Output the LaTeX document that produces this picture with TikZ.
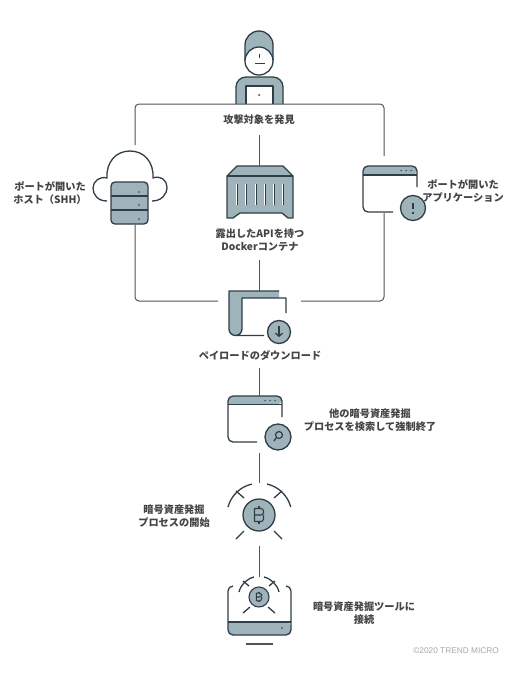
\documentclass[tikz,border=0pt]{standalone}
\usepackage{fontspec}
\setmainfont{Liberation Sans}
\newfontfamily\jpfont{Noto Sans CJK JP}[BoldFont={* Black}]
\definecolor{ink}{HTML}{2F3E46}
\definecolor{steel}{HTML}{9FB3BA}
\definecolor{wire}{HTML}{505558}
\definecolor{caption}{HTML}{444444}
\usetikzlibrary{arrows.meta,positioning,calc}
\tikzset{coinmark/.pic={
  \draw[ink, line width=1.1pt] (-4.5,6.5) -- (-4.5,-6.5) [rounded corners=2.5pt] -- (4.5,-6.5) -- (4.5,0) [sharp corners] -- (-4.5,0) (4.5,0) [rounded corners=2.5pt] -- (4.5,6.5) [sharp corners] -- (-4.5,6.5);
  \draw[ink, line width=1.1pt] (0,-9) -- (0,-6.5) (0,6.5) -- (0,9);
}}

\begin{document}
\begin{tikzpicture}[x=1pt, y=-1pt, line join=round,
  wired/.style={wire, line width=1pt},
  icon/.style={ink, line width=1.3pt},
  badge/.style={circle, draw=ink, fill=steel, line width=1.3pt, inner sep=0pt},
  dotmark/.style={circle, fill=ink, inner sep=0pt, minimum size=2pt},
  lbl/.style={font=\jpfont\bfseries\fontsize{10.2}{13}\selectfont, text=caption, align=center, inner sep=0pt}]
\useasboundingbox (0,0) rectangle (520,677);
\fill[white] (0,0) rectangle (520,677);
% attacker
\draw[icon, fill=steel, rounded corners=10pt] (236,104) -- (236,77) -- (283,77) -- (283,104);
\draw[icon, fill=white] (246,104) -- (246,86) -- (273,86) -- (273,104);
\node[dotmark] (laptopdot) at (259,95) {};
\draw[icon, fill=steel] (245,61) -- (245,45) arc[start angle=180, end angle=0, x radius=14, y radius=-14] -- (273,61);
\node[circle, draw=ink, fill=white, line width=1.3pt, minimum size=28pt, inner sep=0pt] (head) at (259,61) {};
\draw[icon, line width=1pt] (255,63.5) -- (265,63.5) (259,54) -- (259,58);
% frame
\coordinate (leftdrop) at (135,145); \coordinate (rightdrop) at (384,156);
\coordinate (leftend) at (218,301); \coordinate (rightend) at (301,301);
\coordinate (topleft) at (135,104); \coordinate (topright) at (384,104);
\draw[wired, rounded corners=4pt] (leftdrop) -- (topleft) -- (topright) -- (rightdrop);
\node[lbl] (findlbl) at (259,120) {攻撃対象を発見};
% host
\draw[icon] (107,201) .. controls (98,201) and (93,195) .. (93,188) .. controls (93,181) and (100,176) .. (107,178) .. controls (106,162) and (116,151) .. (130,151) .. controls (144,151) and (154,162) .. (153,178) .. controls (160,175) and (167,180) .. (167,187) .. controls (167,195) and (161,201) .. (152,201);
\node[draw=ink, fill=steel, line width=1.3pt, rounded corners=4pt, minimum width=37pt, minimum height=42pt, inner sep=0pt] (server) at (129.5,203) {};
\draw[icon] (111,196) -- (148,196) (111,210) -- (148,210);
\foreach \y in {192,205,219} \node[dotmark, minimum size=1.6pt] (srv\y) at (139,\y) {};
\node[lbl] (hostlbl) at (50,193) {ポートが開いた\\ホスト（SHH）};
\draw[wired, rounded corners=4pt] (server.south -| leftdrop) -- (135,301) -- (leftend);
% container
\node[lbl] (dockerlbl) at (260,240.5) {露出したAPIを持つ\\Dockerコンテナ};
\draw[icon, fill=steel] (227,176) -- (237,166) -- (283,166) -- (293,176) -- (293,218) -- (288,218) -- (282,213) -- (240,213) -- (233,218) -- (227,218) -- cycle;
\draw[icon] (227,176) -- (293,176);
\foreach \x in {237,246,256,265,274,283} {
  \draw[white, line width=1pt] (\x-1,184) -- (\x-1,205);
  \draw[ink, line width=1pt] (\x,184) -- (\x,205);
}
\coordinate (crateup) at (259,135); \coordinate (cratetop) at (259,166);
\draw[wired] (crateup) -- (cratetop);
% open app
\fill[steel] (363,175) [rounded corners=5pt] -- (363,166) -- (417,166) -- (417,175) [sharp corners] -- cycle;
\draw[icon, rounded corners=5pt] (393,212) -- (363,212) -- (363,166) -- (417,166) -- (417,187);
\draw[icon] (363,175) -- (417,175);
\foreach \x in {401,406,411} \node[dotmark, minimum size=1.5pt] (app\x) at (\x,170.5) {};
\node[badge, minimum size=25pt] (appbadge) at (413,208) {};
\draw[icon] (413,203) -- (413,209) (413,212) -- (413,213.5);
\node[lbl] (applbl) at (463,191) {ポートが開いた\\アプリケーション};
\coordinate (appfoot) at (384,213);
\draw[wired, rounded corners=4pt] (appfoot) -- (384,301) -- (rightend);
% payload
\coordinate (dockerfoot) at (259,260); \coordinate (payloadtop) at (259,291);
\draw[wired] (dockerfoot) -- (payloadtop);
\fill[steel] (279,291) -- (229,291) -- (229,329) arc[start angle=180, end angle=0, x radius=6.5, y radius=6.5] -- (242,298) -- (279,298) -- cycle;
\draw[icon] (279,291) -- (229,291) -- (229,329) arc[start angle=180, end angle=0, x radius=6.5, y radius=6.5] -- (242,298) -- (286,298) -- (286,313) (235.5,335.5) -- (264,335.5);
\node[badge, minimum size=23pt] (downbadge) at (279,332) {};
\draw[icon, -{Straight Barb[length=3pt, width=7pt]}] (279,326) -- (279,337);
\node[lbl] (payloadlbl) at (260,356) {ペイロードのダウンロード};
\coordinate (payloadfoot) at (259,368); \coordinate (searchtop) at (259,396);
\draw[wired] (payloadfoot) -- (searchtop);
% process search
\fill[steel] (228,404.5) [rounded corners=5pt] -- (228,396) -- (282,396) -- (282,404.5) [sharp corners] -- cycle;
\draw[icon, rounded corners=5pt] (257,442) -- (228,442) -- (228,396) -- (282,396) -- (282,417);
\draw[icon] (228,404.5) -- (282,404.5);
\foreach \x in {265,270,275} \node[dotmark, minimum size=1.5pt] (win\x) at (\x,400.5) {};
\node[badge, minimum size=26pt] (searchbadge) at (278,437) {};
\node[circle, draw=ink, line width=1.2pt, minimum size=7pt, inner sep=0pt] (lens) at (279,435) {};
\draw[icon] (lens.south west) -- (274,441);
\node[lbl] (searchlbl) at (370,420) {他の暗号資産発掘\\プロセスを検索して強制終了};
\coordinate (searchfoot) at (259,453); \coordinate (coinup) at (259,483);
\draw[wired] (searchfoot) -- (coinup);
% mining start
\node[badge, minimum size=32pt] (coin) at (259,515) {};
\pic at (coin) {coinmark};
\draw[icon] (228,507) arc[start angle=165, end angle=103, x radius=32, y radius=-32];
\draw[icon] (267,484) arc[start angle=77, end angle=15, x radius=32, y radius=-32];
\foreach \a/\b/\c/\d in {236/491/244/498, 282/491/274/498, 236/539/244/531, 282/539/274/531} \draw[icon] (\a,\b) -- (\c,\d);
\node[lbl] (startlbl) at (174,516.5) {暗号資産発掘\\プロセスの開始};
\coordinate (coinfoot) at (259,546); \coordinate (toolup) at (259,577);
\draw[wired] (coinfoot) -- (toolup);
% tool
\fill[steel] (228,622) [rounded corners=5pt] -- (228,635) -- (291,635) -- (291,622) [sharp corners] -- cycle;
\draw[icon, rounded corners=5pt] (233,586) -- (228,586) -- (228,635) -- (291,635) -- (291,586) -- (286,586);
\draw[icon] (228,622) -- (291,622);
\node[dotmark, minimum size=1.6pt] (tooldot) at (282,628) {};
\draw[wire, line width=1.6pt] (246,644) -- (273,644);
\node[badge, minimum size=20pt, line width=1.1pt] (smallcoin) at (259,597) {};
\pic[scale=.6] at (smallcoin) {coinmark};
\draw[icon] (239,592) arc[start angle=166, end angle=104, x radius=20.6, y radius=-20.6];
\draw[icon] (264,577) arc[start angle=76, end angle=14, x radius=20.6, y radius=-20.6];
\foreach \a/\b/\c/\d in {243/581/249/586, 275/581/269/586, 243/613/250/607, 275/613/268/607} \draw[icon] (\a,\b) -- (\c,\d);
\node[lbl] (toollbl) at (364,613) {暗号資産発掘ツールに\\接続};
\node[font=\fontsize{8.3}{10}\selectfont, text=black!35, anchor=east, inner sep=0pt] (credit) at (499,651) {©2020 TREND MICRO};
\end{tikzpicture}
\end{document}
